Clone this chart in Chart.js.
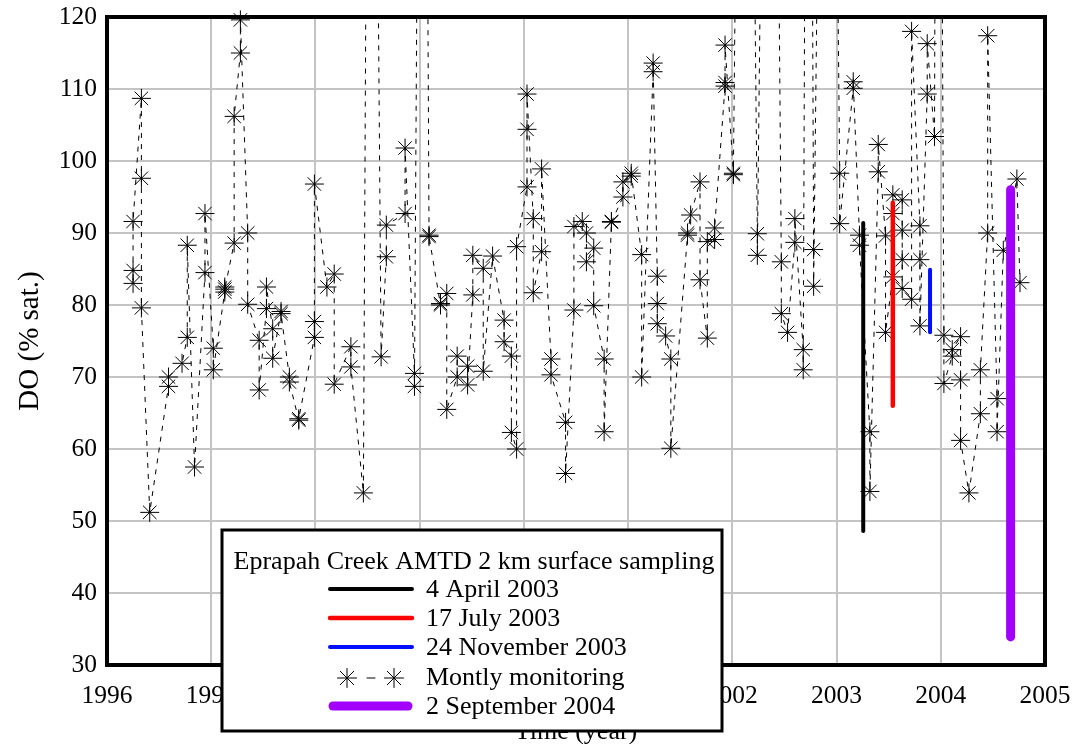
<!DOCTYPE html>
<html>
<head>
<meta charset="utf-8">
<title>Eprapah Creek dissolved oxygen</title>
<script src="https://cdn.jsdelivr.net/npm/chart.js@4.4.0/dist/chart.umd.min.js"></script>
<style>
  html, body { margin: 0; padding: 0; background: #fff; }
</style>
</head>
<body>
<canvas id="doChart" width="1075" height="744"></canvas>
<script>
// monthly monitoring: sampling date (decimal year) and the DO readings taken that day
// (values above 120 ran off the top of the plot)
const monthlyDates = [
  1996.25, 1996.33, 1996.41, 1996.59, 1996.72, 1996.77, 1996.84, 1996.94,
  1997.02, 1997.13, 1997.22, 1997.28, 1997.35, 1997.46, 1997.53, 1997.59,
  1997.67, 1997.75, 1997.84, 1997.99, 1998.11, 1998.18, 1998.34, 1998.46,
  1998.53, 1998.63, 1998.68, 1998.86, 1998.95, 1999.03, 1999.09, 1999.20,
  1999.26, 1999.36, 1999.46, 1999.51, 1999.61, 1999.70, 1999.81, 1999.88,
  1999.93, 2000.03, 2000.09, 2000.17, 2000.26, 2000.40, 2000.48, 2000.56,
  2000.60, 2000.67, 2000.77, 2000.84, 2000.95, 2001.03, 2001.13, 2001.24,
  2001.28, 2001.36, 2001.41, 2001.57, 2001.60, 2001.69, 2001.76, 2001.83,
  2001.93, 2002.01, 2002.12, 2002.24, 2002.37, 2002.47, 2002.53, 2002.60,
  2002.68, 2002.73, 2002.78, 2002.92, 2003.03, 2003.16, 2003.22, 2003.32,
  2003.40, 2003.47, 2003.54, 2003.63, 2003.72, 2003.80, 2003.87, 2003.94,
  2003.97, 2004.03, 2004.11, 2004.19, 2004.27, 2004.38, 2004.45, 2004.54,
  2004.60, 2004.73, 2004.76
];
const monthlyDO = [
  [83.0, 84.8, 91.6], [108.7, 97.6, 79.6], [51.2], [68.7, 70.0], [71.9], [75.5, 88.3], [57.5], [84.5, 92.7],
  [74.0, 71.0], [81.8, 82.5, 82.2], [88.6, 106.2], [115.0, 119.6], [90.0, 80.1], [75.1, 68.2], [79.5, 82.5], [76.7, 72.6],
  [79.1, 78.8], [70.0, 69.3], [64.0, 64.2], [75.5, 77.7, 96.8], [82.5], [84.3, 69.0], [74.2, 71.4], [53.9],
  [260], [72.8], [86.7, 91.1], [92.7, 101.8], [70.5, 68.7], [260], [89.7, 89.5], [80.0, 80.2],
  [81.6, 65.5], [70.0, 72.9], [71.5, 68.9], [81.4, 86.9], [85.1, 70.8], [86.8], [77.9, 74.9], [72.9, 62.3],
  [60.0, 88.1], [96.4, 104.4, 109.3], [92.0, 81.7], [87.4, 98.9], [72.5, 70.3], [63.7, 56.6], [79.3, 90.9], [91.6],
  [90.0, 86.0], [87.9, 79.9], [72.5, 62.4], [91.6, 91.5], [95.0, 97.1], [97.9, 98.3], [87.0, 70.0], [112.4, 113.6],
  [84.0, 80.2, 77.4], [75.7], [72.5, 60.1], [89.7, 90.0], [92.5], [97.1, 83.5], [75.4, 88.8], [89.1, 90.7],
  [110.4, 110.9, 116.1], [98.3, 98.1], [260], [89.9, 86.9], [260], [86.0, 78.8], [76.2], [88.7, 92.0],
  [73.8, 71.0], [260], [87.7, 82.6], [260], [98.3, 91.3], [110.1, 111.0], [89.7, 88.3], [62.4, 54.1],
  [98.5, 102.3], [89.6, 76.2], [83.9, 92.7, 95.3], [94.6, 90.4, 86.3, 82.3], [80.8, 118.0], [91.0, 86.3, 77.1], [109.3, 116.3], [103.4],
  [260], [75.8, 69.1], [72.9, 73.8], [75.6, 69.6, 61.2], [53.9], [64.9, 71.0], [90.0, 117.4], [67.0, 62.4],
  [87.6], [97.5], [83.1]
];

// surface sampling surveys: date and range of DO over the survey
const surveyLabels = ['4 April 2003', '17 July 2003', '24 November 2003', '2 September 2004'];
const surveyDates = [2003.256, 2003.54, 2003.897, 2004.67];
const surveyDO = [[48.6, 91.4], [66.0, 94.2], [76.2, 84.9], [33.9, 96.0]];
const surveyColors = ['#000000', '#ff0000', '#0010ff', '#a100ff'];
const surveyWidths = [4, 4.5, 4, 9];

const yearTicks = [1996, 1997, 1998, 1999, 2000, 2001, 2002, 2003, 2004, 2005];
const legendTitle = 'Eprapah Creek AMTD 2 km surface sampling';
const monthlyLabel = 'Montly monitoring';

const serif = '"Liberation Serif", "Times New Roman", serif';

// flatten the monthly readings in date order
const monthlyPoints = [];
monthlyDates.forEach((d, i) => {
    monthlyDO[i].forEach(v => monthlyPoints.push({x: d, y: v}));
});

const surveySets = surveyLabels.map((label, i) => ({
    label: label,
    type: 'line',
    data: surveyDO[i].map(v => ({x: surveyDates[i], y: v})),
    borderColor: surveyColors[i],
    borderWidth: surveyWidths[i],
    borderCapStyle: 'round',
    pointRadius: 0,
    order: 3 - i
}));

function drawStar(ctx, x, y, r) {
    const d = r * Math.SQRT1_2;
    ctx.beginPath();
    ctx.moveTo(x - r, y); ctx.lineTo(x + r, y);
    ctx.moveTo(x, y - r); ctx.lineTo(x, y + r);
    ctx.moveTo(x - d, y - d); ctx.lineTo(x + d, y + d);
    ctx.moveTo(x - d, y + d); ctx.lineTo(x + d, y - d);
    ctx.stroke();
}

const framePlugin = {
    id: 'frameAndLegend',
    beforeDatasetsDraw(chart) {
        const {ctx, chartArea} = chart;
        ctx.save();
        ctx.strokeStyle = '#000';
        ctx.lineWidth = 4;
        ctx.strokeRect(chartArea.left, chartArea.top,
            chartArea.right - chartArea.left, chartArea.bottom - chartArea.top);
        ctx.restore();
    },
    afterDraw(chart) {
        const ctx = chart.ctx;
        const box = {left: 222, top: 530, right: 722, bottom: 731};
        ctx.save();
        ctx.fillStyle = '#fff';
        ctx.fillRect(box.left, box.top, box.right - box.left, box.bottom - box.top);
        ctx.lineWidth = 3;
        ctx.strokeStyle = '#000';
        ctx.strokeRect(box.left, box.top, box.right - box.left, box.bottom - box.top);

        ctx.font = '26px ' + serif;
        ctx.fillStyle = '#000';
        ctx.textBaseline = 'middle';
        ctx.textAlign = 'center';
        ctx.fillText(legendTitle, 474, 562);

        const rows = [589, 618, 647, 677, 706];
        const entries = [
            {text: surveyLabels[0], kind: 0},
            {text: surveyLabels[1], kind: 1},
            {text: surveyLabels[2], kind: 2},
            {text: monthlyLabel, kind: 'monthly'},
            {text: surveyLabels[3], kind: 3}
        ];
        ctx.textAlign = 'left';
        entries.forEach((e, i) => {
            const y = rows[i];
            if (e.kind === 'monthly') {
                ctx.strokeStyle = '#000';
                ctx.lineWidth = 1;
                drawStar(ctx, 347, y + 1, 9.5);
                drawStar(ctx, 394, y + 1, 9.5);
                ctx.beginPath();
                ctx.moveTo(367, y + 1); ctx.lineTo(375, y + 1);
                ctx.stroke();
            } else {
                ctx.strokeStyle = surveyColors[e.kind];
                ctx.lineWidth = surveyWidths[e.kind];
                ctx.lineCap = 'round';
                ctx.beginPath();
                ctx.moveTo(e.kind === 3 ? 333 : 330, y);
                ctx.lineTo(e.kind === 3 ? 408 : 412, y);
                ctx.stroke();
            }
            ctx.fillStyle = '#000';
            ctx.fillText(e.text, 426, y + 1);
        });
        ctx.restore();
    }
};

const ctx = document.getElementById('doChart').getContext('2d');
new Chart(ctx, {
    type: 'line',
    data: {
        datasets: [
            {
                label: 'monthly line',
                data: monthlyPoints,
                borderColor: '#000',
                borderWidth: 1,
                borderDash: [5, 6],
                pointRadius: 0,
                order: 6
            },
            {
                label: monthlyLabel,
                data: monthlyPoints,
                showLine: false,
                pointStyle: 'star',
                pointRadius: 9.5,
                pointBorderColor: '#000',
                pointBorderWidth: 1,
                clip: false,
                order: 5
            }
        ].concat(surveySets)
    },
    options: {
        responsive: false,
        animation: false,
        layout: { padding: { top: 17, right: 30, left: 0, bottom: 0 } },
        plugins: {
            legend: { display: false },
            tooltip: { enabled: false }
        },
        scales: {
            x: {
                type: 'linear',
                min: 1996,
                max: 2005,
                afterBuildTicks: scale => { scale.ticks = yearTicks.map(v => ({value: v})); },
                afterFit: scale => {
                    scale.height = 79;
                    scale.paddingLeft = 0;
                    scale.paddingRight = 0;
                },
                grid: { color: '#c4c4c4', lineWidth: 2, drawTicks: false },
                border: { display: false },
                ticks: {
                    padding: 16,
                    color: '#000',
                    font: { family: serif, size: 25.5 },
                    maxRotation: 0,
                    callback: v => String(v)
                },
                title: {
                    display: true,
                    text: 'Time (year)',
                    color: '#000',
                    font: { family: serif, size: 26 },
                    padding: { top: 0, bottom: -4 }
                }
            },
            y: {
                type: 'linear',
                min: 30,
                max: 120,
                afterFit: scale => {
                    scale.width = 107;
                    scale.paddingTop = 0;
                    scale.paddingBottom = 0;
                },
                grid: { color: '#c4c4c4', lineWidth: 2, drawTicks: false },
                border: { display: false },
                ticks: {
                    stepSize: 10,
                    padding: 10,
                    color: '#000',
                    font: { family: serif, size: 25.5 }
                },
                title: {
                    display: true,
                    text: 'DO (% sat.)',
                    color: '#000',
                    font: { family: serif, size: 29 },
                    padding: { top: 13, bottom: 0 }
                }
            }
        }
    },
    plugins: [framePlugin]
});
</script>
</body>
</html>
